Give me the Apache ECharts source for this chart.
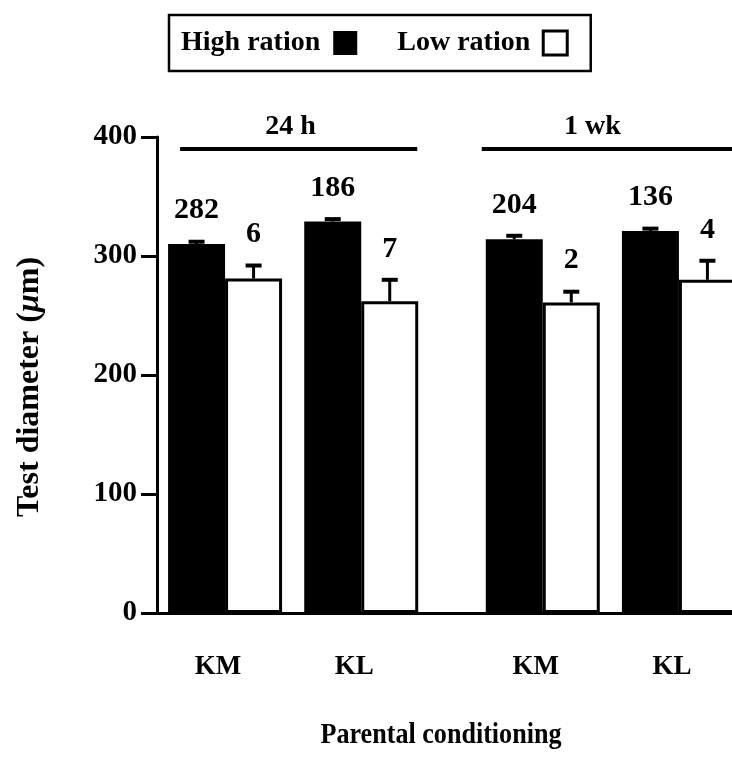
<!DOCTYPE html>
<html><head><meta charset="utf-8">
<script src="https://cdn.jsdelivr.net/npm/echarts@6/dist/echarts.min.js"></script>
<style>html,body{margin:0;padding:0;background:#fff}#c{width:732px;height:757px}</style>
</head><body><div id="c"></div>
<script>
// ---- data ----
const groups = ['KM', 'KL', 'KM', 'KL'];
const periods = ['24 h', '1 wk'];
const seriesNames = ['High ration', 'Low ration'];
const highMean = [310, 329, 314, 321];
const highErr = [2, 2, 3, 2];
const highN = [282, 186, 204, 136];
const lowMean = [281, 262, 261, 280];
const lowErr = [11, 18, 9, 16];
const lowN = [6, 7, 2, 4];
const yTicks = [0, 100, 200, 300, 400];
const xTitle = 'Parental conditioning';
const yTitleParts = ['Test diameter (', '\u03bc', 'm)'];

// ---- layout ----
const SLOT = [1, 4, 8, 11];
const NSLOTS = 13;
const BAR_W = 57;
const FONT = 'Liberation Serif';
const BRACKET_Y = 390;

const cats = Array(NSLOTS).fill('');
groups.forEach((g, i) => { cats[SLOT[i]] = g; });
const barData = arr => arr.map((v, i) => [SLOT[i], v]);
const errData = (m, e, n) => m.map((v, i) => [SLOT[i], v, e[i], n[i]]);

function errRender(side) {
  return function (params, api) {
    const x = api.value(0), m = api.value(1), e = api.value(2), n = api.value(3);
    const b = api.coord([x, m]);
    const t = api.coord([x, m + e]);
    const cx = b[0] + side * BAR_W / 2;
    return {
      type: 'group', children: [
        { type: 'line', shape: { x1: cx, y1: b[1], x2: cx, y2: t[1] }, style: { stroke: '#000', lineWidth: 3 } },
        { type: 'line', shape: { x1: cx - 8, y1: t[1], x2: cx + 8, y2: t[1] }, style: { stroke: '#000', lineWidth: 4 } },
        { type: 'text', x: cx, y: t[1] - 31, style: { text: String(n), font: 'bold 30px "Liberation Serif"', fill: '#000', align: 'center', verticalAlign: 'middle' } }
      ]
    };
  };
}

const chart = echarts.init(document.getElementById('c'), null, { renderer: 'canvas' });
const option = {
  animation: false,
  backgroundColor: '#fff',
  textStyle: { fontFamily: FONT },
  grid: { left: 157, top: 137, width: 590, bottom: 144, containLabel: false, outerBoundsMode: 'none' },
  legend: {
    left: 169, top: 15,
    align: 'right',
    orient: 'horizontal',
    itemWidth: 24, itemHeight: 24, itemGap: 40,
    padding: [14, 22, 14, 12],
    borderColor: '#000', borderWidth: 2.5, borderRadius: 0,
    textStyle: { fontFamily: FONT, fontWeight: 'bold', fontSize: 28, color: '#000', padding: [0, 8, 0, 0] },
    data: [
      { name: seriesNames[0], icon: 'rect', itemStyle: { color: '#000', borderWidth: 0 } },
      { name: seriesNames[1], icon: 'rect', itemStyle: { color: '#fff', borderColor: '#000', borderWidth: 3 } }
    ]
  },
  xAxis: {
    type: 'category', data: cats, boundaryGap: true,
    axisLine: { lineStyle: { color: '#000', width: 3 } },
    axisTick: { show: false },
    axisLabel: { interval: 0, color: '#000', fontFamily: FONT, fontWeight: 'bold', fontSize: 27, margin: 41, padding: [0, 14, 0, 0] },
    splitLine: { show: false }
  },
  yAxis: {
    type: 'value', min: yTicks[0], max: yTicks[yTicks.length - 1], interval: yTicks[1] - yTicks[0],
    axisLine: { show: true, lineStyle: { color: '#000', width: 3 } },
    axisTick: { show: true, inside: false, length: 16, lineStyle: { color: '#000', width: 3 } },
    axisLabel: { color: '#000', fontFamily: FONT, fontWeight: 'bold', fontSize: 29, margin: 20 },
    splitLine: { show: false }
  },
  series: [
    { name: seriesNames[0], type: 'bar', data: barData(highMean), barWidth: BAR_W, barGap: '0%',
      itemStyle: { color: '#000', borderColor: '#000', borderWidth: 0 } },
    { name: seriesNames[1], type: 'bar', data: barData(lowMean), barWidth: BAR_W, barGap: '0%',
      itemStyle: { color: '#fff', borderColor: '#000', borderWidth: 3 } },
    { name: seriesNames[0], type: 'custom', renderItem: errRender(-1), data: errData(highMean, highErr, highN), clip: false, z: 5 },
    { name: seriesNames[1], type: 'custom', renderItem: errRender(1), data: errData(lowMean, lowErr, lowN), clip: false, z: 5 }
  ]
};
chart.setOption(option);

function bracket(i0, i1, label, padL, padR, textShift) {
  const p0 = chart.convertToPixel({ gridIndex: 0 }, [SLOT[i0], BRACKET_Y]);
  const p1 = chart.convertToPixel({ gridIndex: 0 }, [SLOT[i1], BRACKET_Y]);
  const x0 = p0[0] - padL, x1 = p1[0] + padR;
  return [
    { type: 'line', shape: { x1: x0, y1: p0[1], x2: x1, y2: p0[1] }, style: { stroke: '#000', lineWidth: 4 } },
    { type: 'text', x: (x0 + x1) / 2 + textShift, y: p0[1] - 22, style: { text: label, font: 'bold 28px "Liberation Serif"', fill: '#000', align: 'center', verticalAlign: 'middle' } }
  ];
}
chart.setOption({
  graphic: [
    ...bracket(0, 1, periods[0], 45, 56, -8),
    ...bracket(2, 3, periods[1], 61, 60, -18),
    { type: 'text', x: 441, y: 735, scaleX: 0.87,
      style: { text: xTitle, font: 'bold 30px "Liberation Serif"', fill: '#000', align: 'center', verticalAlign: 'middle' } },
    { type: 'text', x: 30, y: 387, rotation: Math.PI / 2,
      style: {
        text: '{b|' + yTitleParts[0] + '}{i|' + yTitleParts[1] + '}{b|' + yTitleParts[2] + '}',
        align: 'center', verticalAlign: 'middle',
        rich: {
          b: { font: 'bold 32px "Liberation Serif"', fill: '#000' },
          i: { font: 'italic bold 32px "Liberation Serif"', fill: '#000' }
        }
      } }
  ]
});
</script>
</body></html>
